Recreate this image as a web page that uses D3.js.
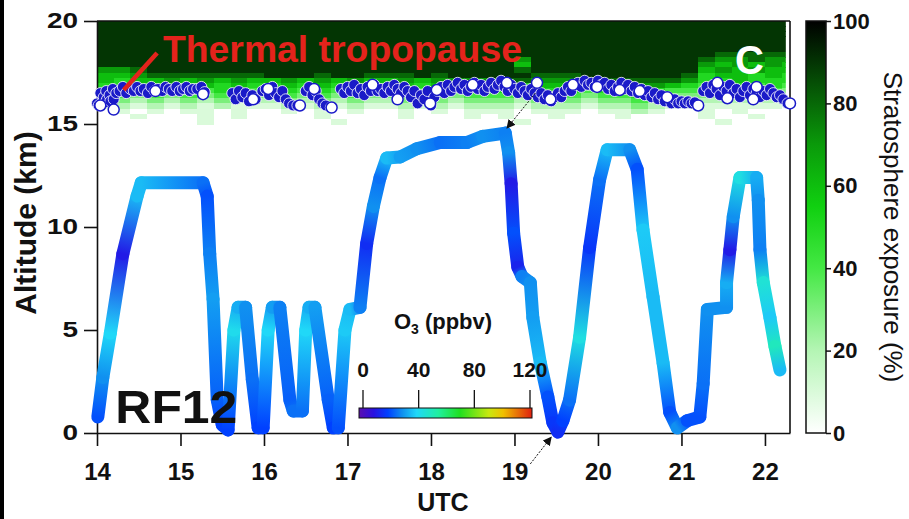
<!DOCTYPE html>
<html>
<head>
<meta charset="utf-8">
<script src="https://cdn.jsdelivr.net/npm/d3@7"></script>
<style>
body { margin: 0; background: #fff; }
svg { display: block; font-family: Arial, "Liberation Sans", sans-serif; }
</style>
</head>
<body>
<svg id="chart" width="909" height="519"></svg>
<script>
// flight track RF12: UTC hour, altitude (km), O3 (ppbv) at each turning point
var trackTime = [14.01,14.07,14.16,14.31,14.48,14.53,15.27,15.32,15.35,15.39,
  15.44,15.50,15.57,15.64,15.69,15.78,15.86,15.93,15.99,16.05,
  16.10,16.19,16.31,16.35,16.46,16.50,16.54,16.61,16.77,16.83,
  16.89,16.97,17.03,17.15,17.23,17.31,17.39,17.47,17.63,17.83,
  18.11,18.43,18.62,18.89,18.93,18.96,18.99,19.04,19.09,19.19,
  19.22,19.31,19.40,19.46,19.52,19.58,19.66,19.78,19.90,20.02,
  20.11,20.38,20.47,20.54,20.66,20.78,20.86,20.95,21.07,21.22,
  21.26,21.31,21.54,21.54,21.58,21.62,21.70,21.90,21.92,21.94,
  21.98,22.06,22.12,22.18];
var trackAlt = [0.78,2.7,4.85,8.7,11.5,12.15,12.15,11.5,8.7,6.5,
  1.6,0.4,0.15,5.0,6.1,6.1,2.6,0.25,0.25,5.0,
  6.1,6.1,1.6,1.07,1.07,5.0,6.1,6.1,1.6,0.25,
  0.25,5.0,6.0,6.1,9.2,11.0,12.4,13.35,13.4,13.8,
  14.1,14.1,14.4,14.56,13.6,12.1,9.7,8.05,7.6,7.3,
  5.6,3.4,1.75,0.5,0.05,0.6,1.6,4.65,9.0,12.3,
  13.75,13.75,12.8,9.85,6.6,3.4,1.0,0.25,0.6,0.78,
  2.4,6.0,6.1,7.3,8.9,10.5,12.4,12.4,11.3,8.9,
  7.3,5.6,4.2,3.06];
var trackO3 = [22,30,40,12,36,36,26,22,28,32,
  24,20,20,42,34,30,26,20,20,40,
  32,28,24,26,26,40,34,32,24,20,
  22,38,36,28,16,30,26,36,32,30,
  26,28,30,28,30,12,22,14,28,30,
  32,36,22,18,16,20,26,44,18,26,
  36,30,22,38,36,36,22,30,22,22,
  26,30,30,34,12,30,44,34,30,28,
  46,38,50,36];

// thermal tropopause [UTC, km]
var tropopause = [
  [14.00,16.0],[14.02,15.9],[14.04,16.5],[14.05,16.0],[14.08,16.3],[14.10,16.05],[14.11,16.6],[14.12,16.2],
  [14.15,16.4],[14.16,16.1],[14.19,16.7],[14.20,16.2],[14.23,16.5],[14.27,16.6],[14.31,16.8],[14.35,16.5],
  [14.40,16.7],[14.44,16.6],[14.48,16.8],[14.52,16.6],[14.56,16.7],[14.61,16.5],[14.65,16.8],[14.69,16.6],
  [14.73,16.7],[14.78,16.6],[14.82,16.8],[14.86,16.7],[14.90,16.6],[14.95,16.8],[14.99,16.6],[15.03,16.7],
  [15.07,16.8],[15.11,16.6],[15.15,16.7],[15.20,16.7],[15.25,16.8],[15.29,16.55],
  [15.62,16.5],[15.66,16.2],[15.70,16.6],[15.74,16.3],[15.78,16.5],[15.82,16.1],[15.86,16.4],[15.90,16.2],
  [15.98,16.6],[16.02,16.7],[16.06,16.4],[16.10,16.8],[16.14,16.5],[16.18,16.3],[16.22,16.6],[16.26,16.2],
  [16.30,16.0],[16.35,15.9],[16.40,15.9],
  [16.50,16.6],[16.54,16.8],[16.58,16.4],[16.62,16.6],[16.66,16.2],[16.70,16.0],[16.74,15.9],[16.80,15.8],
  [16.92,16.7],[16.96,16.5],[17.00,16.8],[17.04,16.6],[17.08,16.9],[17.12,16.5],[17.16,16.7],[17.20,16.4],
  [17.24,16.8],[17.28,16.6],[17.32,16.9],[17.36,16.6],[17.40,16.7],[17.44,16.5],[17.48,16.8],[17.52,16.6],
  [17.56,16.9],[17.60,16.7],[17.64,16.5],[17.68,16.8],[17.72,16.6],[17.76,16.3],[17.80,16.6],[17.84,16.0],
  [17.88,16.4],[17.92,16.2],[17.96,16.6],[18.00,15.9],[18.04,16.3],[18.08,16.6],[18.12,16.8],[18.16,16.5],
  [18.20,16.9],[18.24,16.6],[18.28,16.8],[18.32,17.0],[18.36,16.7],[18.40,16.9],[18.44,16.6],[18.48,16.8],
  [18.52,17.0],[18.56,16.7],[18.60,16.9],[18.64,16.6],[18.68,16.8],[18.72,17.0],[18.76,16.7],[18.80,16.9],
  [18.84,17.1],[18.88,16.8],[18.92,16.6],[18.96,16.9],[19.00,16.7],[19.04,16.5],[19.08,16.8],[19.12,16.6],
  [19.16,16.4],[19.20,16.7],[19.24,16.5],[19.28,16.3],[19.32,16.5],[19.36,16.2],[19.40,16.4],[19.44,16.1],
  [19.48,16.3],[19.52,16.5],[19.56,16.3],[19.60,16.6],[19.64,16.8],[19.68,16.6],[19.72,16.9],[19.76,17.0],
  [19.80,16.8],[19.84,17.1],[19.88,16.9],[19.92,17.0],[19.96,16.8],[20.00,17.1],[20.04,16.9],[20.08,17.0],
  [20.12,16.7],[20.16,16.9],[20.20,16.6],[20.24,16.8],[20.28,17.0],[20.32,16.7],[20.36,16.9],[20.40,16.6],
  [20.44,16.8],[20.48,16.5],[20.52,16.7],[20.56,16.4],[20.60,16.6],[20.64,16.3],[20.68,16.5],[20.72,16.2],
  [20.76,16.4],[20.80,16.1],[20.84,16.3],[20.88,16.0],[20.92,16.2],[20.96,16.0],[21.00,16.1],[21.04,16.0],
  [21.08,16.1],[21.12,16.0],[21.16,16.05],
  [21.26,16.6],[21.30,16.8],[21.34,16.5],[21.38,16.9],[21.42,16.7],[21.46,16.4],[21.50,16.8],[21.54,16.6],
  [21.58,16.9],[21.62,16.5],[21.66,16.7],[21.70,16.3],[21.74,16.6],[21.78,16.8],[21.82,16.4],[21.86,16.7],
  [21.90,16.5],[21.94,16.3],[21.98,16.6],[22.02,16.4],[22.06,16.7],[22.10,16.5],[22.14,16.3],[22.18,16.4],
  [22.22,16.2],[22.27,16.0]
];
// tropopause points drawn as open (white) circles
var tropopauseOpen = [[14.04,15.9],[14.2,15.7],[14.7,16.6],[15.27,16.45],[15.87,16.2],[16.05,16.7],[16.43,15.9],
  [16.6,16.7],[16.81,15.8],[17.3,16.9],[17.6,16.2],[17.99,16.0],[18.07,16.65],[18.5,16.9],[18.91,17.0],
  [19.27,17.0],[19.43,16.2],[19.7,16.9],[19.99,16.8],[20.26,16.65],[20.5,16.6],[20.83,16.3],[21.2,15.9],
  [21.43,17.0],[21.55,16.25],[21.86,16.2],[21.9,16.8],[22.3,16.0]];

// stratosphere exposure (% / 10); rows from 20 km down in 0.25 km, columns from 14 UTC in 0.2 h
var expTop = 20, expDz = 0.25, expStart = 14, expDt = 0.2;
var exposureRows = [
  "999999999999999999999999999999999999999999",
  "999999999999999999999999999999999999999999",
  "999999999999999999999999999999999999999999",
  "999999999999999999999999999999999999999999",
  "999999999999999999999999999999999999999999",
  "999999999999999999999999999999999999999999",
  "999999999999999999999999999999999999988888",
  "999999999999999999999999979999999999877877",
  "999999999999999999999999969999999999767676",
  "778999999999999999999999989999999999676766",
  "667888888899989988898999998889999998566565",
  "656676767667676766767777887778888887556555",
  "555565656556565655656566656665677765455454",
  "454545454445454544545455545554556544444443",
  "343434343334343433434344434443445433333332",
  "232323232223232322323233323332334322222221",
  "121212121112121211212122212221223211111110",
  "010101101001010100101011101110112100101000",
  "001000101000010000100010100100010000100100",
  "000000100000001000000000010000000000010000"
];

var xTicks = [14, 15, 16, 17, 18, 19, 20, 21, 22];
var yTicks = [0, 5, 10, 15, 20];
var expTicks = [0, 20, 40, 60, 80, 100];
var o3Ticks = [0, 40, 80, 120];

// colour maps
var o3Color = d3.scaleLinear()
  .domain([0, 10, 20, 30, 40, 55, 70, 90, 100, 120])
  .range(['#5b0fb0', '#2a10e0', '#0040ff', '#1090f0', '#20d8f8', '#20f0a0', '#20e020', '#c8e810', '#f0c000', '#e02010']);
var expColor = d3.scaleLinear()
  .domain([0, 20, 40, 55, 70, 85, 100])
  .range(['#ffffff', '#b4f5b4', '#44e844', '#10d010', '#0a9a0a', '#054f05', '#000000']);

var svg = d3.select('#chart');
var defs = svg.append('defs');

var x = d3.scaleLinear().domain([14, 22.3]).range([97, 790]);
var y = d3.scaleLinear().domain([0, 20]).range([433, 21]);

// black strip on the left edge
svg.append('rect').attr('x', 0).attr('y', 0).attr('width', 4).attr('height', 519).attr('fill', '#000');

// stratosphere exposure heatmap
defs.append('clipPath').attr('id', 'heatClip').append('rect')
  .attr('x', x(14)).attr('y', y(20))
  .attr('width', x(22.25) - x(14)).attr('height', y(0) - y(20));
var cells = [];
exposureRows.forEach(function(row, r) {
  row.split('').forEach(function(ch, c) {
    cells.push({ t: expStart + c * expDt, z: expTop - r * expDz, v: +ch * 10 });
  });
});
svg.append('g').attr('clip-path', 'url(#heatClip)')
  .selectAll('rect').data(cells).enter().append('rect')
  .attr('x', function(d) { return x(d.t); })
  .attr('y', function(d) { return y(d.z); })
  .attr('width', function(d) { return x(d.t + expDt) - x(d.t) + 0.5; })
  .attr('height', function(d) { return y(d.z - expDz) - y(d.z) + 0.5; })
  .attr('fill', function(d) { return expColor(d.v); })
  .attr('shape-rendering', 'crispEdges');

// axes and frame
var xAxis = d3.axisBottom(x).tickValues(xTicks).tickSize(13).tickSizeOuter(0).tickPadding(17).tickFormat(d3.format('d'));
var gx = svg.append('g').attr('transform', 'translate(0,' + y(0) + ')').call(xAxis);
gx.selectAll('text').attr('font-size', 24).attr('font-weight', 'bold').attr('fill', '#111');

var yAxis = d3.axisLeft(y).tickValues(yTicks).tickSize(13).tickSizeOuter(0).tickPadding(6);
var gy = svg.append('g').attr('transform', 'translate(' + x(14) + ',0)').call(yAxis);
gy.selectAll('text').attr('font-size', 21.5).attr('font-weight', 'bold').attr('fill', '#111')
  .attr('x', -19 / 1.3).attr('transform', 'scale(1.3,1)');

[gx, gy].forEach(function(g) {
  g.select('.domain').attr('stroke', '#111').attr('stroke-width', 1.6);
  g.selectAll('.tick line').attr('stroke', '#111').attr('stroke-width', 1.6);
});
svg.append('line').attr('x1', x(22.3)).attr('x2', x(22.3)).attr('y1', y(0)).attr('y2', y(20))
  .attr('stroke', '#111').attr('stroke-width', 1.6);
svg.append('line').attr('x1', x(14)).attr('x2', x(22.3)).attr('y1', y(20)).attr('y2', y(20))
  .attr('stroke', '#111').attr('stroke-width', 1.6);

// flight track coloured by O3
var trackG = svg.append('g');
d3.range(trackTime.length - 1).forEach(function(i) {
  var gid = 'seg' + i;
  var grad = defs.append('linearGradient').attr('id', gid).attr('gradientUnits', 'userSpaceOnUse')
    .attr('x1', x(trackTime[i])).attr('y1', y(trackAlt[i]))
    .attr('x2', x(trackTime[i + 1])).attr('y2', y(trackAlt[i + 1]));
  grad.append('stop').attr('offset', 0).attr('stop-color', o3Color(trackO3[i]));
  grad.append('stop').attr('offset', 1).attr('stop-color', o3Color(trackO3[i + 1]));
  trackG.append('line')
    .attr('x1', x(trackTime[i])).attr('y1', y(trackAlt[i]))
    .attr('x2', x(trackTime[i + 1])).attr('y2', y(trackAlt[i + 1]))
    .attr('stroke', 'url(#' + gid + ')')
    .attr('stroke-width', 13)
    .attr('stroke-linecap', 'round');
});

// thermal tropopause markers
svg.append('g').selectAll('circle').data(tropopause).enter().append('circle')
  .attr('cx', function(d) { return x(d[0]); })
  .attr('cy', function(d) { return y(d[1]); })
  .attr('r', 5.5)
  .attr('fill', '#1a1ac8')
  .attr('stroke', '#fff')
  .attr('stroke-width', 0.8);
svg.append('g').selectAll('circle').data(tropopauseOpen).enter().append('circle')
  .attr('cx', function(d) { return x(d[0]); })
  .attr('cy', function(d) { return y(d[1]); })
  .attr('r', 5.5)
  .attr('fill', '#fff')
  .attr('stroke', '#1a1ac8')
  .attr('stroke-width', 1.5);

// axis titles
svg.append('text').attr('transform', 'translate(36,223) rotate(-90)')
  .attr('text-anchor', 'middle').attr('font-size', 30).attr('font-weight', 'bold').attr('fill', '#111')
  .text('Altitude (km)');
svg.append('text').attr('x', 443).attr('y', 511)
  .attr('text-anchor', 'middle').attr('font-size', 25).attr('font-weight', 'bold').attr('fill', '#111')
  .text('UTC');

// stratosphere exposure colour bar
var cy = d3.scaleLinear().domain([0, 100]).range([433, 21]);
var expGrad = defs.append('linearGradient').attr('id', 'expGrad')
  .attr('x1', 0).attr('y1', 1).attr('x2', 0).attr('y2', 0);
expColor.domain().forEach(function(v) {
  expGrad.append('stop').attr('offset', v / 100).attr('stop-color', expColor(v));
});
svg.append('rect').attr('x', 806).attr('y', cy(100)).attr('width', 20).attr('height', cy(0) - cy(100))
  .attr('fill', 'url(#expGrad)').attr('stroke', '#111').attr('stroke-width', 1.5);
var gc = svg.append('g').attr('transform', 'translate(826,0)')
  .call(d3.axisRight(cy).tickValues(expTicks).tickSize(5).tickPadding(2).tickSizeOuter(0));
gc.select('.domain').remove();
gc.selectAll('.tick line').attr('stroke', '#111').attr('stroke-width', 1.5);
gc.selectAll('text').attr('font-size', 22).attr('font-weight', 'bold').attr('fill', '#111');
svg.append('text').attr('transform', 'translate(884,227) rotate(90)')
  .attr('text-anchor', 'middle').attr('font-size', 26).attr('fill', '#111')
  .text('Stratosphere exposure (%)');

// O3 colour legend
var ox = d3.scaleLinear().domain([0, 120]).range([363, 530]);
var o3Grad = defs.append('linearGradient').attr('id', 'o3Grad');
o3Color.domain().forEach(function(v) {
  o3Grad.append('stop').attr('offset', v / 120).attr('stop-color', o3Color(v));
});
svg.append('rect').attr('x', ox(0) - 4).attr('y', 408).attr('width', ox(120) - ox(0) + 6).attr('height', 10)
  .attr('fill', 'url(#o3Grad)').attr('stroke', '#111').attr('stroke-width', 1);
svg.append('g').selectAll('line').data(o3Ticks).enter().append('line')
  .attr('x1', function(d) { return ox(d); }).attr('x2', function(d) { return ox(d); })
  .attr('y1', 390).attr('y2', 408).attr('stroke', '#111').attr('stroke-width', 1.3);
svg.append('g').selectAll('text').data(o3Ticks).enter().append('text')
  .attr('x', function(d) { return ox(d); }).attr('y', 377)
  .attr('text-anchor', 'middle').attr('font-size', 21).attr('font-weight', 'bold').attr('fill', '#111')
  .text(function(d) { return d; });
var o3Title = svg.append('text').attr('x', 443).attr('y', 329)
  .attr('text-anchor', 'middle').attr('font-size', 22).attr('font-weight', 'bold').attr('fill', '#111');
o3Title.append('tspan').text('O');
o3Title.append('tspan').attr('font-size', 14).attr('dy', 5).text('3');
o3Title.append('tspan').attr('dy', -5).text(' (ppbv)');

// annotations
svg.append('line')
  .attr('x1', x(14.72)).attr('y1', y(18.45)).attr('x2', x(14.32)).attr('y2', y(16.65))
  .attr('stroke', '#e4231c').attr('stroke-width', 4.5);
svg.append('text').attr('x', x(14.79)).attr('y', y(18.0))
  .attr('font-size', 37).attr('font-weight', 'bold').attr('fill', '#e4231c')
  .attr('textLength', 359).attr('lengthAdjust', 'spacingAndGlyphs')
  .text('Thermal tropopause');
svg.append('text').attr('x', x(21.64)).attr('y', y(17.45))
  .attr('font-size', 40).attr('font-weight', 'bold').attr('fill', '#fff')
  .text('C');
svg.append('text').attr('x', x(14.22)).attr('y', y(0.49))
  .attr('font-size', 47).attr('font-weight', 'bold').attr('fill', '#111')
  .attr('textLength', 122).attr('lengthAdjust', 'spacingAndGlyphs')
  .text('RF12');

defs.append('marker').attr('id', 'head').attr('viewBox', '0 0 10 10')
  .attr('refX', 9).attr('refY', 5).attr('markerWidth', 9).attr('markerHeight', 9)
  .attr('markerUnits', 'userSpaceOnUse').attr('orient', 'auto')
  .append('path').attr('d', 'M0,0L10,5L0,10z').attr('fill', '#111');
var arrows = [[[19.25, 16.5], [18.91, 14.8]], [[19.19, -1.5], [19.44, -0.2]]];
svg.append('g').selectAll('line').data(arrows).enter().append('line')
  .attr('x1', function(d) { return x(d[0][0]); }).attr('y1', function(d) { return y(d[0][1]); })
  .attr('x2', function(d) { return x(d[1][0]); }).attr('y2', function(d) { return y(d[1][1]); })
  .attr('stroke', '#111').attr('stroke-width', 1).attr('stroke-dasharray', '2,1.5')
  .attr('marker-end', 'url(#head)');
</script>
</body>
</html>
